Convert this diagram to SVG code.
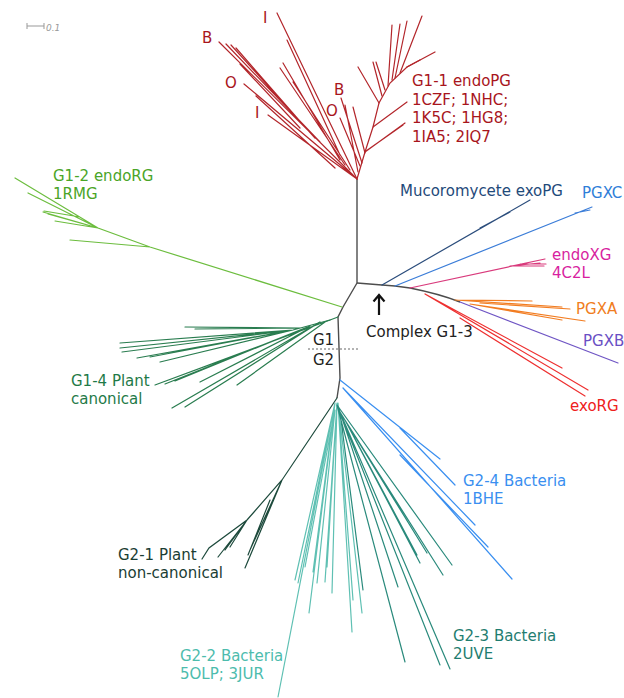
<svg xmlns="http://www.w3.org/2000/svg" width="624" height="698" viewBox="0 0 624 698">
<style>
text{font-family:"DejaVu Sans","Liberation Sans",sans-serif;font-size:15px}
.br{fill:none;stroke-width:1.2;stroke-linecap:round}
.bb{stroke:#4d4d4d;stroke-width:1.4;fill:none}
.r{stroke:#b3262b}
.g2{stroke:#6cbd3e}
.g4{stroke:#2a7d50}
.mu{stroke:#2b4d7c}
.pc{stroke:#3b7dd8}
.xg{stroke:#d93a7c}
.pa{stroke:#f27d22}
.pb{stroke:#6f55c4}
.er{stroke:#ee3030}
.b4{stroke:#3a8ff0}
.p21{stroke:#1d4a3c}
.t22{stroke:#5fc0b3}
.t23{stroke:#2a8a7c}
</style>
<rect width="624" height="698" fill="#fff"/>

<g id="scale">
<path d="M27,26 H44 M27,23 V29 M44,23 V29" stroke="#999" stroke-width="1" fill="none"/>
<text x="46" y="31" style="font-size:9px;font-style:italic" fill="#999">0.1</text>
</g>

<g id="connectors">
<path class="bb" d="M357,179 L357,283"/>
<path class="bb" d="M357,283 L382,285 L395,286 L410,288 Q440,294 460,302"/>
<path class="bb" d="M357,283 L343,307 L338,317 L340,378 L337,398"/>
<path d="M308,349 H358" stroke="#555" stroke-width="0.9" stroke-dasharray="2,2" fill="none"/>
<path d="M379,315 V295 M373.5,301.5 L379,295 L384.5,301.5" stroke="#111" stroke-width="2.2" fill="none"/>
</g>

<g id="G1-1" class="br r">
<path d="M357,179 L219,42 M320,142 L226,44 M315,138 L231,45 M305,127 L236,48 M300,128 L240,64 M357,179 L244,84 M335,168 L256,96 M357,179 L268,115"/>
<path d="M357,179 L277,13 M340,155 L287,40 M340,160 L283,63 M345,165 L280,68 M350,170 L293,82"/>
<path d="M362,163 L341,98 M365,153 L353,107 M360,166 L340,118 M358,172 L345,105"/>
<path d="M357,179 L365,152 L373,127 L379,103 L390,83 L407,67 L420,60"/>
<path d="M365,152 L405,123 M366,151 L403,125 M373,127 L407,102 M379,103 L358,67 M382,96 L373,62 M388,86 L392,25 M392,80 L400,24 M395,78 L407,21 M400,73 L422,16 M407,67 L435,52 M385,90 L376,62"/>
</g>
<g id="G1-2" class="br g2">
<path d="M342,307 L150,247 L98,228 L15,178 M150,247 L70,240 M98,228 L28,193 M98,228 L43,212 M98,228 L55,221 M98,228 L48,214 M80,217 L44,211"/>
</g>
<g id="G1-4" class="br g4">
<path d="M338,317 L330,320 L293,330 L120,343 M293,330 L120,348 M293,330 L122,352 M293,330 L137,358 M293,330 L150,357 M293,330 L160,362 M300,328 L185,327 M300,328 L195,329"/>
<path d="M330,320 L155,385 M320,322 L172,408 M320,322 L185,407 M310,326 L200,382 M325,322 L237,385 M310,326 L165,384 M305,328 L175,381"/>
</g>
<g id="Mucoromycete" class="br mu"><path d="M382,285 L530,200 M480,228 L510,212"/></g>
<g id="PGXC" class="br pc"><path d="M395,286 L592,207 M575,213 L590,210"/></g>
<g id="endoXG" class="br xg"><path d="M410,288 L545,259 M510,266 L540,263 M510,266 L544,266 M520,264 L546,264"/></g>
<g id="PGXA" class="br pa"><path d="M455,300 L532,301 M455,300 L562,307 M480,303 L570,309 M470,304 L562,320 M470,304 L585,321"/></g>
<g id="PGXB" class="br pb"><path d="M460,302 L618,363"/></g>
<g id="exoRG" class="br er"><path d="M425,294 L562,368 M425,294 L588,390 M460,318 L585,396"/></g>
<g id="G2-4" class="br b4"><path d="M340,380 L440,459 M400,428 L455,485 M343,388 L475,525 M400,455 L488,547 M343,388 L512,579"/></g>
<g id="G2-1" class="br p21"><path d="M337,398 L282,480 L247,520 L209,548 L202,559 M247,520 L218,557 M247,520 L225,550 M247,520 L230,547 M282,480 L245,568 M282,480 L250,550 M270,500 L248,555"/></g>
<g id="G2-2" class="br t22"><path d="M335,403 L278,697 M335,403 L295,580 M335,403 L298,583 M333,420 L305,567 M333,420 L309,613 M335,403 L313,572 M335,410 L317,583 M337,403 L325,582 M337,403 L327,567 M337,403 L332,593 M338,403 L352,632 M338,403 L362,613 M338,403 L353,600"/></g>
<g id="G2-3" class="br t23"><path d="M337,405 L405,662 M337,405 L440,665 M337,405 L450,669 M337,405 L452,565 M345,420 L443,575 M345,420 L420,563 M345,420 L417,555 M340,412 L398,587 M340,412 L427,553 M340,412 L363,590"/></g>

<g id="labels">
<text x="202" y="43" fill="#a8151c">B</text>
<text x="263" y="23" fill="#a8151c">I</text>
<text x="225" y="88" fill="#a8151c">O</text>
<text x="255" y="118" fill="#a8151c">I</text>
<text x="334" y="95" fill="#a8151c">B</text>
<text x="326" y="116" fill="#a8151c">O</text>
<text fill="#a8151c"><tspan x="412" y="86">G1-1 endoPG</tspan><tspan x="412" y="104.5">1CZF; 1NHC;</tspan><tspan x="412" y="123">1K5C; 1HG8;</tspan><tspan x="412" y="141.5">1IA5; 2IQ7</tspan></text>
<text fill="#4aa527"><tspan x="53" y="181">G1-2 endoRG</tspan><tspan x="53" y="199">1RMG</tspan></text>
<text x="400" y="196" fill="#1f4a7a">Mucoromycete exoPG</text>
<text x="582" y="198" fill="#2f7ed8">PGXC</text>
<text fill="#d81fa0"><tspan x="552" y="260">endoXG</tspan><tspan x="552" y="278">4C2L</tspan></text>
<text x="576" y="314" fill="#f07d22">PGXA</text>
<text x="583" y="346" fill="#6a4fc4">PGXB</text>
<text x="570" y="411" fill="#ee2020">exoRG</text>
<text x="366" y="337" fill="#222">Complex G1-3</text>
<text x="313" y="345" fill="#222">G1</text>
<text x="313" y="365" fill="#222">G2</text>
<text fill="#1f7a48"><tspan x="71" y="386">G1-4 Plant</tspan><tspan x="71" y="404">canonical</tspan></text>
<text fill="#3a8ff0"><tspan x="463" y="486">G2-4 Bacteria</tspan><tspan x="463" y="504">1BHE</tspan></text>
<text fill="#1a3d33"><tspan x="118" y="560">G2-1 Plant</tspan><tspan x="118" y="578">non-canonical</tspan></text>
<text fill="#4dbcad"><tspan x="180" y="661">G2-2 Bacteria</tspan><tspan x="180" y="679">5OLP; 3JUR</tspan></text>
<text fill="#1f7d70"><tspan x="453" y="641">G2-3 Bacteria</tspan><tspan x="453" y="659">2UVE</tspan></text>
</g>
</svg>
